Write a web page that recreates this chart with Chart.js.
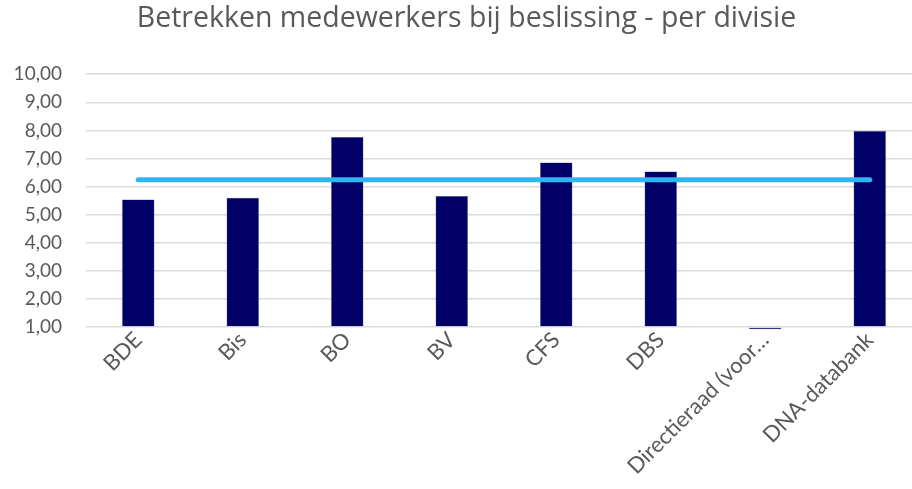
<!DOCTYPE html>
<html>
<head>
<meta charset="utf-8">
<script src="https://cdn.jsdelivr.net/npm/chart.js@4"></script>
<style>
    html, body { margin: 0; padding: 0; background: #fff; overflow: hidden; }
    #wrap { width: 943px; height: 489px; }
</style>
</head>
<body>
<div id="wrap"><canvas id="divisieChart" width="943" height="489"></canvas></div>
<script>
const divisies = ['BDE', 'Bis', 'BO', 'BV', 'CFS', 'DBS', 'Directieraad (voor\u2026', 'DNA-databank'];
const scores = [5.54, 5.60, 7.76, 5.66, 6.86, 6.54, 0.92, 7.98];
const gemiddelde = [6.24, 6.24, 6.24, 6.24, 6.24, 6.24, 6.24, 6.24];

const colors = {
    navy: '#000066',
    lightBlue: '#2fb6f2',
    grid: '#d9d9d9',
    text: '#595959'
};

const fontFamily = 'Lato, "Open Sans", sans-serif';

new Chart(document.getElementById('divisieChart'), {
    data: {
        labels: divisies,
        datasets: [{
            type: 'line',
            label: 'Gemiddelde',
            data: gemiddelde,
            borderColor: colors.lightBlue,
            borderWidth: 5,
            borderCapStyle: 'round',
            pointRadius: 0,
            fill: false,
            order: 0
        }, {
            type: 'bar',
            label: 'Score',
            data: scores,
            base: 1,
            backgroundColor: colors.navy,
            borderColor: '#5a5aa0',
            borderWidth: 0.5,
            barPercentage: 0.62,
            categoryPercentage: 0.5,
            clip: false,
            order: 1
        }]
    },
    options: {
        responsive: false,
        animation: false,
        layout: { padding: { left: 11, right: 21 } },
        scales: {
            x: {
                offset: true,
                grid: { display: false, drawTicks: false },
                border: { display: false },
                ticks: {
                    color: colors.text,
                    font: { family: fontFamily, size: 22 },
                    minRotation: 45,
                    maxRotation: 45,
                    padding: 0,
                    autoSkip: false
                },
                afterFit: scale => { scale.height = 162; }
            },
            y: {
                min: 1,
                max: 10,
                grid: { color: colors.grid, lineWidth: 1.5, drawTicks: false },
                border: { display: false },
                ticks: {
                    stepSize: 1,
                    color: colors.text,
                    font: { family: fontFamily, size: 19 },
                    padding: 24,
                    callback: v => v.toFixed(2).replace('.', ',')
                },
                afterFit: scale => { scale.width = 75; }
            }
        },
        plugins: {
            legend: { display: false },
            tooltip: { enabled: false },
            title: {
                display: true,
                text: 'Betrekken medewerkers bij beslissing - per divisie',
                color: colors.text,
                font: { family: '"Open Sans", sans-serif', size: 28.5, weight: 'normal' },
                padding: { top: 2, bottom: 38 }
            }
        }
    }
});
</script>
</body>
</html>
